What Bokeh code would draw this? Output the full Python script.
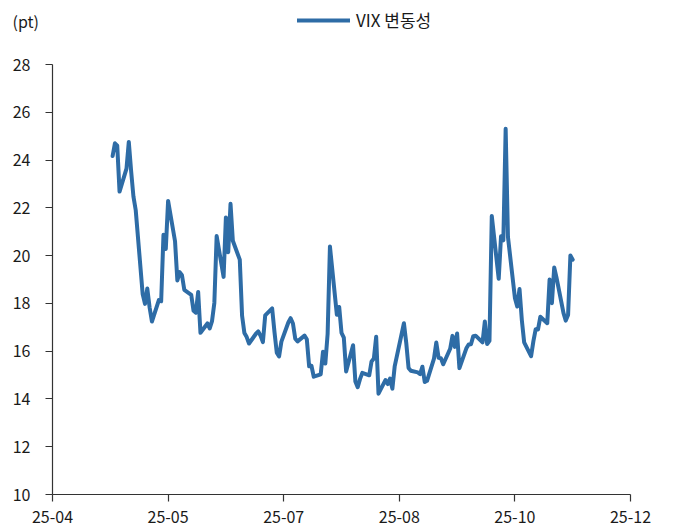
import pandas as pd
from bokeh.plotting import figure
from bokeh.models import (ColumnDataSource, Range1d, FixedTicker, DatetimeTickFormatter,
                          Legend, LegendItem, Label)
from bokeh.embed import file_html
from bokeh.resources import INLINE

# ---- data ----
dates = [
    "2025-04-29", "2025-04-30", "2025-05-01", "2025-05-02", "2025-05-05", "2025-05-06",
    "2025-05-07", "2025-05-08", "2025-05-09", "2025-05-12", "2025-05-13", "2025-05-14",
    "2025-05-15", "2025-05-16", "2025-05-19", "2025-05-20", "2025-05-21", "2025-05-22",
    "2025-05-23", "2025-05-26", "2025-05-27", "2025-05-28", "2025-05-29", "2025-05-30",
    "2025-06-02", "2025-06-03", "2025-06-04", "2025-06-05", "2025-06-06", "2025-06-09",
    "2025-06-10", "2025-06-11", "2025-06-12", "2025-06-13", "2025-06-16", "2025-06-17",
    "2025-06-18", "2025-06-19", "2025-06-20", "2025-06-23", "2025-06-24", "2025-06-25",
    "2025-06-26", "2025-06-27", "2025-06-30", "2025-07-01", "2025-07-02", "2025-07-03",
    "2025-07-04", "2025-07-07", "2025-07-08", "2025-07-09", "2025-07-10", "2025-07-11",
    "2025-07-14", "2025-07-15", "2025-07-16", "2025-07-17", "2025-07-18", "2025-07-21",
    "2025-07-22", "2025-07-23", "2025-07-24", "2025-07-25", "2025-07-28", "2025-07-29",
    "2025-07-30", "2025-07-31", "2025-08-01", "2025-08-04", "2025-08-05", "2025-08-06",
    "2025-08-07", "2025-08-08", "2025-08-11", "2025-08-12", "2025-08-13", "2025-08-14",
    "2025-08-15", "2025-08-18", "2025-08-19", "2025-08-20", "2025-08-21", "2025-08-22",
    "2025-08-25", "2025-08-26", "2025-08-27", "2025-08-28", "2025-08-29", "2025-09-02",
    "2025-09-03", "2025-09-04", "2025-09-05", "2025-09-08", "2025-09-09", "2025-09-10",
    "2025-09-11", "2025-09-12", "2025-09-15", "2025-09-16", "2025-09-17", "2025-09-18",
    "2025-09-19", "2025-09-22", "2025-09-23", "2025-09-24", "2025-09-25", "2025-09-26",
    "2025-09-29", "2025-09-30", "2025-10-01", "2025-10-02", "2025-10-03", "2025-10-06",
    "2025-10-07", "2025-10-08", "2025-10-09", "2025-10-10", "2025-10-13", "2025-10-14",
    "2025-10-15", "2025-10-16", "2025-10-17", "2025-10-20", "2025-10-21", "2025-10-22",
    "2025-10-23", "2025-10-24", "2025-10-27", "2025-10-28", "2025-10-29", "2025-10-30",
    "2025-10-31", "2025-11-03", "2025-11-04", "2025-11-05", "2025-11-06", "2025-11-07",
    "2025-11-10", "2025-11-11", "2025-11-12", "2025-11-13", "2025-11-14",
]
vix = [
    24.17, 24.70, 24.60, 22.68, 23.64, 24.76,
    23.55, 22.48, 21.90, 18.39, 17.98, 18.62,
    17.83, 17.24, 18.14, 18.09, 20.87, 20.28,
    22.29, 20.60, 18.96, 19.31, 19.18, 18.57,
    18.36, 17.69, 17.61, 18.48, 16.77, 17.16,
    16.95, 17.26, 18.02, 20.82, 19.11, 21.60,
    20.14, 22.17, 20.62, 19.83, 17.48, 16.76,
    16.59, 16.32, 16.73, 16.83, 16.64, 16.38,
    17.50, 17.79, 16.81, 15.94, 15.78, 16.40,
    17.20, 17.38, 17.16, 16.52, 16.41, 16.65,
    16.50, 15.37, 15.39, 14.93, 15.03, 15.98,
    15.48, 16.72, 20.38, 17.52, 17.85, 16.77,
    16.57, 15.15, 16.25, 14.73, 14.49, 14.83,
    15.09, 14.99, 15.57, 15.69, 16.60, 14.22,
    14.79, 14.62, 14.85, 14.43, 15.36, 17.17,
    16.35, 15.30, 15.18, 15.11, 15.04, 15.35,
    14.71, 14.76, 15.69, 16.36, 15.72, 15.70,
    15.45, 16.10, 16.64, 16.18, 16.74, 15.29,
    16.12, 16.28, 16.29, 16.63, 16.65, 16.37,
    17.24, 16.30, 16.43, 21.66, 19.03, 20.81,
    20.64, 25.31, 20.78, 18.23, 17.87, 18.60,
    17.30, 16.37, 15.79, 16.42, 16.92, 16.91,
    17.44, 17.17, 19.00, 18.01, 19.50, 19.08,
    17.60, 17.28, 17.51, 20.00, 19.83,
]
series_name = "VIX 변동성"
unit_label = "(pt)"
x_tick_dates = ["2025-04-03", "2025-05-23", "2025-07-12", "2025-08-31", "2025-10-20", "2025-12-09"]
y_ticks = [10, 12, 14, 16, 18, 20, 22, 24, 26, 28]

# ---- layout / style (pixels) ----
FONT = "Noto Sans CJK KR"
LINE_COLOR = "#2E6CA6"
AXIS_COLOR = "#333333"
TEXT_COLOR = "#1a1a1a"
W, H = 675, 528
AX_LEFT, AX_RIGHT, AX_TOP, AX_BOTTOM = 52, 630, 64, 494   # axis box in the page

# The plotting frame spans the whole page so that the header (unit label, legend)
# and the tick labels live inside it; both axes are pinned to the data box and bounded.
xt = pd.to_datetime(x_tick_dates)
x0, x1 = xt[0], xt[-1]
px_per_day = (AX_RIGHT - AX_LEFT) / ((x1 - x0) / pd.Timedelta(days=1))
x_start = x0 - pd.Timedelta(days=AX_LEFT / px_per_day)
x_end = x1 + pd.Timedelta(days=(W - AX_RIGHT) / px_per_day)
y0, y1 = y_ticks[0], y_ticks[-1]
px_per_unit = (AX_BOTTOM - AX_TOP) / (y1 - y0)
y_start = y0 - (H - AX_BOTTOM) / px_per_unit
y_end = y1 + AX_TOP / px_per_unit

src = ColumnDataSource(dict(date=pd.to_datetime(dates), vix=vix))

p = figure(width=W, height=H, output_backend="svg", toolbar_location=None,
           x_axis_type="datetime",
           x_range=Range1d(x_start, x_end),
           y_range=Range1d(y_start, y_end),
           min_border_left=0, min_border_right=0, min_border_top=0, min_border_bottom=0)
p.outline_line_color = None
p.grid.grid_line_color = None

r = p.line("date", "vix", source=src, line_color=LINE_COLOR, line_width=4,
           line_join="round", line_cap="round")

fmt = "%y-%m"
p.xaxis.ticker = FixedTicker(ticks=[float(t.value // 10**6) for t in xt])
p.xaxis.formatter = DatetimeTickFormatter(
    microseconds=fmt, milliseconds=fmt, seconds=fmt, minsec=fmt, minutes=fmt,
    hourmin=fmt, hours=fmt, days=fmt, months=fmt, years=fmt,
    strip_leading_zeros=False)
p.xaxis.bounds = (x0, x1)
p.xaxis.fixed_location = y0
p.yaxis.ticker = FixedTicker(ticks=y_ticks)
p.yaxis.bounds = (y0, y1)
p.yaxis.fixed_location = float(x0.value // 10**6)

for ax in (p.xaxis, p.yaxis):
    ax.axis_line_color = AXIS_COLOR
    ax.axis_line_width = 1.2
    ax.major_tick_line_color = AXIS_COLOR
    ax.major_tick_line_width = 1.2
    ax.major_tick_in = 0
    ax.major_tick_out = 7
    ax.minor_tick_line_color = None
    ax.major_label_text_font = FONT
    ax.major_label_text_font_size = "16px"
    ax.major_label_text_color = TEXT_COLOR
p.yaxis.major_label_standoff = 15
p.xaxis.major_label_standoff = 9

# header row: unit label at top-left, legend centred above the chart
p.add_layout(Label(x=12, y=H - 20, x_units="screen", y_units="screen",
                   text=unit_label, text_font=FONT, text_font_size="16px",
                   text_color=TEXT_COLOR, text_baseline="middle", text_align="left"))
legend = Legend(items=[LegendItem(label=series_name, renderers=[r])],
                location=(297, H - 32), orientation="horizontal",
                padding=0, margin=0, spacing=0,
                glyph_width=53, glyph_height=20, label_standoff=6,
                label_text_font=FONT, label_text_font_size="17px",
                label_text_color=TEXT_COLOR,
                border_line_color=None, background_fill_alpha=0)
p.add_layout(legend, "center")

open("out.html", "w").write(file_html(p, INLINE))
